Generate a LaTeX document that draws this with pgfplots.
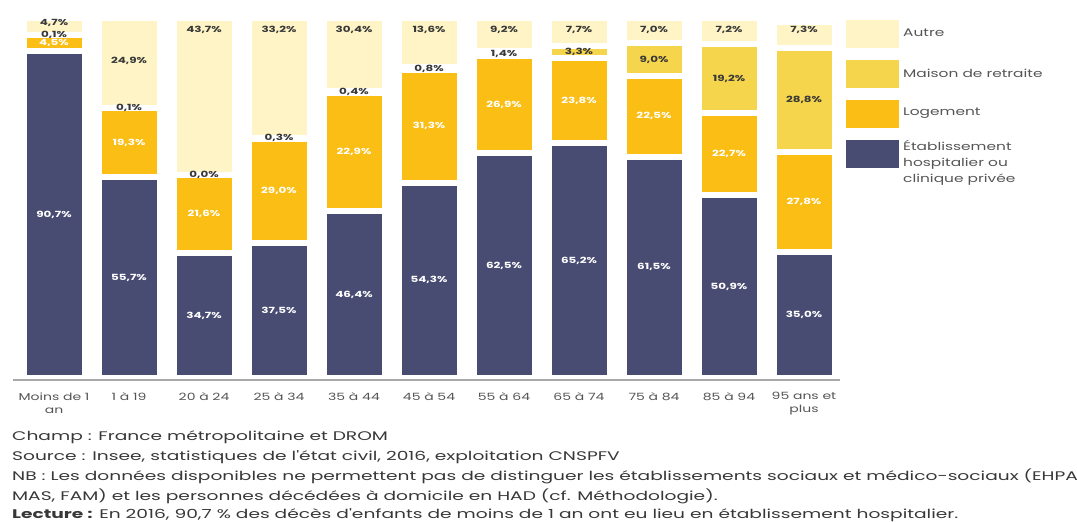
\documentclass[border=0pt]{standalone}
\usepackage{fontspec}
\setmainfont{Poppins}[FakeStretch=1.4]
\newfontfamily\notefont{Poppins}[FakeStretch=1.49]
\usepackage{pgfplots}
\pgfplotsset{compat=1.18}
\usepackage{pgfplotstable}
\definecolor{navy}{HTML}{484B72}
\definecolor{orangeL}{HTML}{FABE14}
\definecolor{maison}{HTML}{F5D54C}
\definecolor{autre}{HTML}{FEF4C6}
\definecolor{txt}{HTML}{383838}
\definecolor{tick}{HTML}{555555}
\definecolor{axl}{HTML}{A8A8A8}

\pgfplotstableread{
x etab log mais autre
0 90.7 4.5 0.1 4.7
1 55.7 19.3 0.1 24.9
2 34.7 21.6 0.0 43.7
3 37.5 29.0 0.3 33.2
4 46.4 32.9 0.4 20.4
5 54.3 31.3 0.8 13.6
6 62.5 26.9 1.4 9.2
7 65.2 23.8 3.3 7.7
8 61.5 22.5 9.0 7.0
9 50.9 22.7 19.2 7.2
10 35.0 27.8 28.8 7.3
}\data

% label positions (y) and label values (v)
\pgfplotstableread{
x y v
0 45.35 90.7
1 27.85 55.7
2 17.35 34.7
3 18.75 37.5
4 23.2 46.4
5 27.15 54.3
6 31.25 62.5
7 32.6 65.2
8 30.75 61.5
9 25.45 50.9
10 17.5 35.0
0 92.95 4.5
1 65.35 19.3
2 45.5 21.6
3 52.0 29.0
4 62.85 22.9
5 69.95 31.3
6 75.95 26.9
7 77.1 23.8
8 72.75 22.5
9 62.25 22.7
10 48.9 27.8
}\whitelabels

\pgfplotstableread{
x y v
0 95.25 0.1
1 75.05 0.1
2 56.3 0.0
3 66.65 0.3
4 79.5 0.4
5 86.0 0.8
6 90.1 1.4
7 90.65 3.3
8 88.5 9.0
9 83.2 19.2
10 77.2 28.8
0 98.6 4.7
1 88.1 24.9
2 96.7 43.7
3 96.7 33.2
4 96.7 30.4
5 96.7 13.6
6 96.7 9.2
7 96.7 7.7
8 96.7 7.0
9 96.7 7.2
10 96.7 7.3
}\darklabels

\pgfplotsset{
  geom/.style={
    at={(13pt,-380pt)}, anchor=south west,
    scale only axis, width=827pt, height=362pt,
    xmin=-0.547, xmax=10.48, ymin=-0.55, ymax=100,
    clip=false,
  },
}

\begin{document}
\begin{tikzpicture}
\useasboundingbox (0,0) rectangle (1077pt,-522pt);
\begin{axis}[geom,
  ybar stacked, bar width=61pt,
  axis on top,
  axis y line=none,
  axis x line*=bottom,
  x axis line style={draw=axl, line width=1.5pt},
  xtick={0,...,10}, major tick length=0pt,
  xticklabels={{Moins de 1\\an},{1 à 19},{20 à 24},{25 à 34},{35 à 44},{45 à 54},{55 à 64},{65 à 74},{75 à 84},{85 à 94},{95 ans et\\plus}},
  xticklabel style={align=center, text=tick, font=\fontsize{10}{13}\selectfont, yshift=-9pt},
  every axis plot/.append style={draw=white, line width=6pt},
]
\addplot[fill=navy] table[x=x,y=etab]{\data};
\addplot[fill=orangeL] table[x=x,y=log]{\data};
\addplot[fill=maison] table[x=x,y=mais]{\data};
\addplot[fill=autre] table[x=x,y=autre]{\data};
\end{axis}
\begin{axis}[geom, axis lines=none,
  nodes near coords={\pgfmathprintnumber[fixed,fixed zerofill,precision=1,use comma,assume math mode=true]{\pgfplotspointmeta}\%},
  point meta=explicit,
  every node near coord/.append style={anchor=center, inner sep=0pt, font=\fontsize{8.5}{8.5}\selectfont\bfseries},
]
\addplot[draw=none, mark=none, nodes near coords style={text=white}] table[x=x,y=y,meta=v]{\whitelabels};
\addplot[draw=none, mark=none, nodes near coords style={text=txt}] table[x=x,y=y,meta=v]{\darklabels};
\end{axis}

% legend
\fill[autre] (846pt,-20pt) rectangle (899pt,-48pt);
\fill[maison] (846pt,-60pt) rectangle (899pt,-88pt);
\fill[orangeL] (846pt,-100pt) rectangle (899pt,-128pt);
\fill[navy] (846pt,-140pt) rectangle (899pt,-168pt);
\begin{scope}[every node/.style={anchor=west, inner sep=0pt, text=tick, font=\fontsize{11}{16}\selectfont}]
\node at (903pt,-33pt) {Autre};
\node at (903pt,-73pt) {Maison de retraite};
\node at (903pt,-113pt) {Logement};
\node[anchor=north west, align=left] at (903pt,-140pt) {Établissement\\hospitalier ou\\clinique privée};
\end{scope}

% notes
\begin{scope}[every node/.style={anchor=west, inner sep=0pt, text=txt, font=\notefont\fontsize{12.5}{14}\selectfont}]
\node at (12pt,-437pt) {Champ : France métropolitaine et DROM};
\node at (12pt,-457pt) {Source : Insee, statistiques de l'état civil, 2016, exploitation CNSPFV};
\node at (12pt,-476pt) {NB : Les données disponibles ne permettent pas de distinguer les établissements sociaux et médico-sociaux (EHPAD,};
\node at (12pt,-496pt) {MAS, FAM) et les personnes décédées à domicile en HAD (cf. Méthodologie).};
\node at (12pt,-515pt) {\textbf{Lecture :} En 2016, 90,7 \% des décès d'enfants de moins de 1 an ont eu lieu en établissement hospitalier.};
\end{scope}
\end{tikzpicture}
\end{document}
